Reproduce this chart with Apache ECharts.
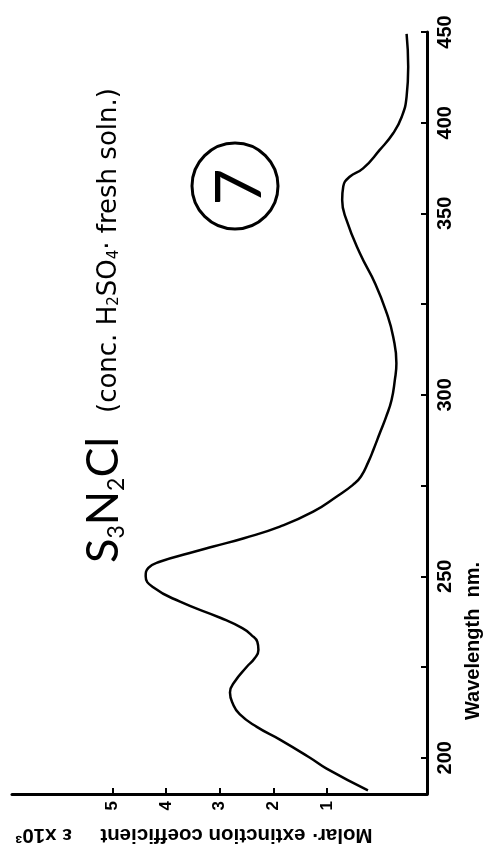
<!DOCTYPE html>
<html>
<head>
<meta charset="utf-8">
<script src="https://cdn.jsdelivr.net/npm/echarts@6/dist/echarts.min.js"></script>
<style>
  html, body { margin: 0; padding: 0; background: #fff; }
  #chart { width: 483px; height: 852px; }
</style>
</head>
<body>
<div id="chart"></div>
<script>
// Absorption spectrum of S3N2Cl in conc. H2SO4 (fresh solution), drawn turned on its side.
const wavelengths = [191, 197, 200, 205, 208.5, 212, 215, 218, 221, 225,
  227.4, 229.7, 231.9, 233.8, 235.7, 238.5, 243, 247, 250, 252.3,
  254, 256.4, 258.2, 260.5, 263.7, 267.8, 272, 275.2, 277.5, 281.6,
  284.8, 289.4, 294, 298.6, 304, 308.7, 316, 322.5, 330.5, 339,
  348.2, 357.4, 364.8, 370.2, 374.8, 385, 394.2, 403.3, 414.4, 430.8, 449];
const extinction = [0.24, 1.01, 1.32, 1.88, 2.31, 2.63, 2.76, 2.81, 2.72, 2.50,
  2.35, 2.28, 2.30, 2.41, 2.58, 2.98, 3.74, 4.24, 4.38, 4.33,
  4.12, 3.56, 3.12, 2.55, 1.88, 1.26, 0.82, 0.52, 0.37, 0.23,
  0.14, 0.02, -0.10, -0.20, -0.26, -0.29, -0.23, -0.11, 0.10, 0.39,
  0.64, 0.72, 0.70, 0.58, 0.33, 0.02, -0.23, -0.39, -0.48, -0.51, -0.48];
const wavelengthTicks = [200, 225, 250, 275, 300, 325, 350, 400, 450];
const wavelengthLabels = [200, 250, 300, 350, 400, 450];
const extinctionTicks = [1, 2, 3, 4, 5];

// The wavelength scale is compressed two-fold beyond 350 nm.
const BREAK = 350;
const toAxis = w => (w <= BREAK ? w : BREAK + (w - BREAK) / 2);
const fromAxis = u => (u <= BREAK ? u : BREAK + (u - BREAK) * 2);

const labelFont = 'Liberation Sans';
const titleFont = 'Lato';

const chart = echarts.init(document.getElementById('chart'), null, { renderer: 'canvas' });

chart.setOption({
  animation: false,
  backgroundColor: '#fff',
  grid: { left: 12, right: 56, top: 32, bottom: 58, containLabel: false, outerBoundsMode: 'none' },
  xAxis: {
    type: 'value',
    inverse: true,
    min: -0.86,
    max: 6.87,
    axisLine: { show: true, onZero: false, lineStyle: { color: '#000', width: 3 } },
    axisTick: { show: true, inside: true, length: 6, customValues: extinctionTicks,
      lineStyle: { color: '#000', width: 2 } },
    axisLabel: { customValues: extinctionTicks, rotate: 90, margin: 7, color: '#000',
      fontSize: 17, fontWeight: 'bold', fontFamily: labelFont },
    splitLine: { show: false }
  },
  yAxis: {
    type: 'value',
    position: 'right',
    min: 190,
    max: 400,
    axisLine: { show: true, onZero: false, lineStyle: { color: '#000', width: 3 } },
    axisTick: { show: true, inside: true, length: 6, customValues: wavelengthTicks.map(toAxis),
      lineStyle: { color: '#000', width: 2 } },
    axisLabel: { customValues: wavelengthLabels.map(toAxis), rotate: 90, margin: 8, color: '#000',
      fontSize: 20, fontWeight: 'bold', fontFamily: labelFont,
      formatter: v => String(Math.round(fromAxis(v))) },
    splitLine: { show: false }
  },
  series: [{
    type: 'line',
    data: wavelengths.map((w, i) => [extinction[i], toAxis(w)]),
    smooth: 0.5,
    showSymbol: false,
    clip: false,
    lineStyle: { color: '#000', width: 2.5 }
  }],
  graphic: [
    {
      type: 'text', x: 103, y: 563, rotation: Math.PI / 2,
      style: {
        text: '{a|S}{b|3}{a|N}{b|2}{a|Cl}',
        align: 'left', verticalAlign: 'middle', fill: '#000',
        rich: {
          a: { fontSize: 45, fontFamily: titleFont, lineHeight: 50, fill: '#000' },
          b: { fontSize: 23, fontFamily: titleFont, lineHeight: 23, verticalAlign: 'bottom', fill: '#000' }
        }
      }
    },
    {
      type: 'text', x: 109, y: 413, rotation: Math.PI / 2,
      style: {
        text: '(conc. H{b|2}SO{b|4}· fresh soln.)',
        align: 'left', verticalAlign: 'middle', fill: '#000',
        fontSize: 26, fontFamily: 'DejaVu Sans',
        rich: {
          b: { fontSize: 15, fontFamily: 'DejaVu Sans', verticalAlign: 'bottom', fill: '#000' }
        }
      }
    },
    {
      type: 'circle', shape: { cx: 235, cy: 186, r: 43 },
      style: { fill: 'none', stroke: '#000', lineWidth: 3 }
    },
    {
      type: 'text', x: 240, y: 187, rotation: Math.PI / 2,
      style: { text: '7', fontSize: 64, fontFamily: titleFont, fill: '#000',
        align: 'center', verticalAlign: 'middle' }
    },
    {
      type: 'text', x: 473, y: 641, rotation: Math.PI / 2,
      style: { text: 'Wavelength  nm.', fontSize: 20, fontWeight: 'bold', fontFamily: labelFont,
        fill: '#000', align: 'center', verticalAlign: 'middle' }
    },
    {
      type: 'text', x: 194, y: 835, rotation: Math.PI,
      style: { text: 'Molar· extinction coefficient     ε x10³', fontSize: 20.5, fontWeight: 'bold',
        fontFamily: labelFont, fill: '#000', align: 'center', verticalAlign: 'middle' }
    }
  ]
});
</script>
</body>
</html>
